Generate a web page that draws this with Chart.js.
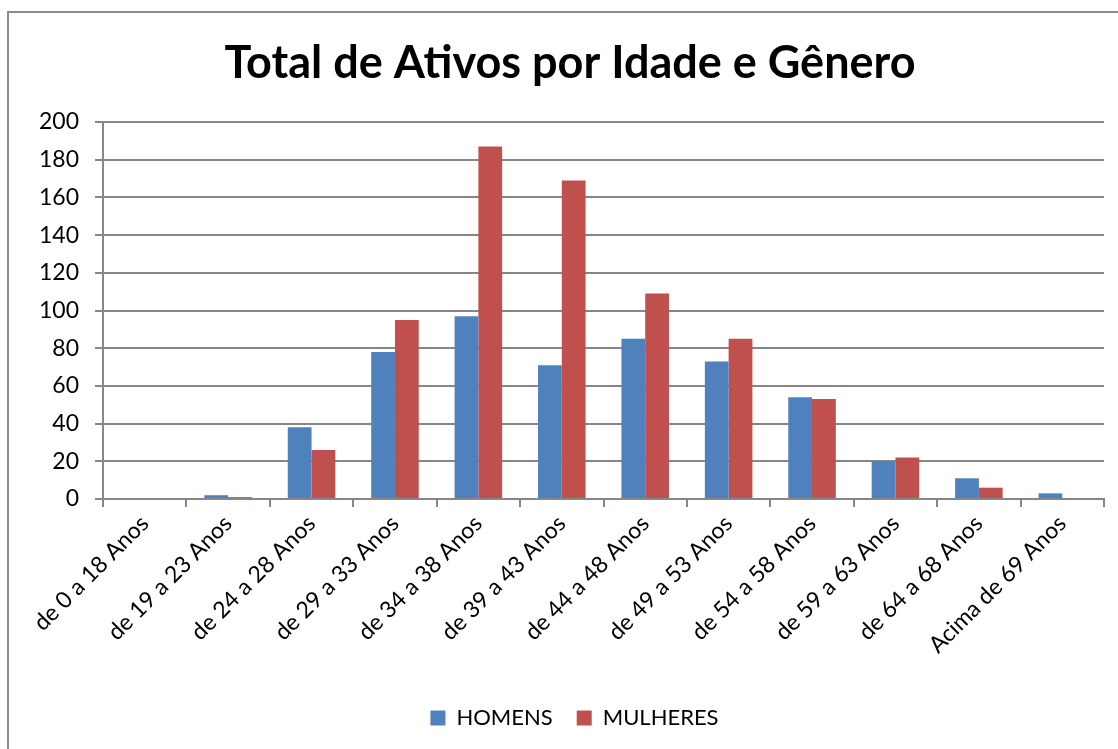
<!DOCTYPE html>
<html>
<head>
<meta charset="utf-8">
<script src="https://cdn.jsdelivr.net/npm/chart.js@4/dist/chart.umd.min.js"></script>
<style>
  html, body { margin: 0; padding: 0; background: #fff; }
  #wrap { position: relative; width: 1118px; height: 749px; overflow: hidden; }
  #frame { position: absolute; left: 7px; top: 11px; width: 1200px; height: 800px;
           border-left: 2px solid #8c8c8c; border-top: 2px solid #8c8c8c; }
  canvas { position: absolute; left: 0; top: 0; }
</style>
</head>
<body>
<div id="wrap">
  <div id="frame"></div>
  <canvas id="chart" width="1118" height="749"></canvas>
</div>
<script>
// faixas etárias e totais
var faixas = ['de 0 a 18 Anos', 'de 19 a 23 Anos', 'de 24 a 28 Anos', 'de 29 a 33 Anos',
  'de 34 a 38 Anos', 'de 39 a 43 Anos', 'de 44 a 48 Anos', 'de 49 a 53 Anos',
  'de 54 a 58 Anos', 'de 59 a 63 Anos', 'de 64 a 68 Anos', 'Acima de 69 Anos'];
var homens   = [0, 2, 38, 78, 97, 71, 85, 73, 54, 20, 11, 3];
var mulheres = [0, 1, 26, 95, 187, 169, 109, 85, 53, 22, 6, 0];
var yTicks   = [0, 20, 40, 60, 80, 100, 120, 140, 160, 180, 200];

var fonte = 'Lato, "Open Sans", sans-serif';
var cinza = '#878787';

// titulo e legenda centrados um pouco mais a direita, como no original
var deslocaCentro = {
  id: 'deslocaCentro',
  beforeDraw: function(chart) {
    chart.legend.left = 45;
    chart.titleBlock.left = 36;
  }
};

var ctx = document.getElementById('chart').getContext('2d');
var chart = new Chart(ctx, {
  type: 'bar',
  data: {
    labels: faixas,
    datasets: [{
      label: 'HOMENS',
      data: homens,
      backgroundColor: '#4F81BD',
      categoryPercentage: 0.57,
      barPercentage: 1
    }, {
      label: 'MULHERES',
      data: mulheres,
      backgroundColor: '#C0504D',
      categoryPercentage: 0.57,
      barPercentage: 1
    }]
  },
  plugins: [deslocaCentro],
  options: {
    responsive: false,
    animation: false,
    layout: { padding: { left: 0, right: 14, top: 0, bottom: 10 } },
    plugins: {
      title: {
        display: true,
        text: 'Total de Ativos por Idade e Gênero',
        color: '#000',
        font: { family: fonte, size: 45, weight: 'bold' },
        padding: { top: 36, bottom: 32 }
      },
      legend: {
        position: 'bottom',
        labels: {
          color: '#000',
          font: { family: fonte, size: 22 },
          boxWidth: 15,
          boxHeight: 15,
          padding: 24
        }
      },
      tooltip: { enabled: false }
    },
    scales: {
      x: {
        grid: { display: true, drawOnChartArea: false, drawTicks: true, tickLength: 8, color: cinza, lineWidth: 2 },
        border: { display: true, color: cinza, width: 2 },
        ticks: {
          color: '#000',
          font: { family: fonte, size: 23 },
          minRotation: 45,
          maxRotation: 45,
          autoSkip: false
        },
        afterFit: function(axis) { axis.height = 184; }
      },
      y: {
        min: 0,
        max: 200,
        afterBuildTicks: function(axis) { axis.ticks = yTicks.map(function(v) { return { value: v }; }); },
        grid: { color: cinza, lineWidth: 2, tickLength: 8 },
        border: { display: true, color: cinza, width: 2 },
        ticks: {
          color: '#000',
          font: { family: fonte, size: 23 },
          padding: 16
        },
        afterFit: function(axis) { axis.width = 103; }
      }
    }
  }
});
</script>
</body>
</html>
